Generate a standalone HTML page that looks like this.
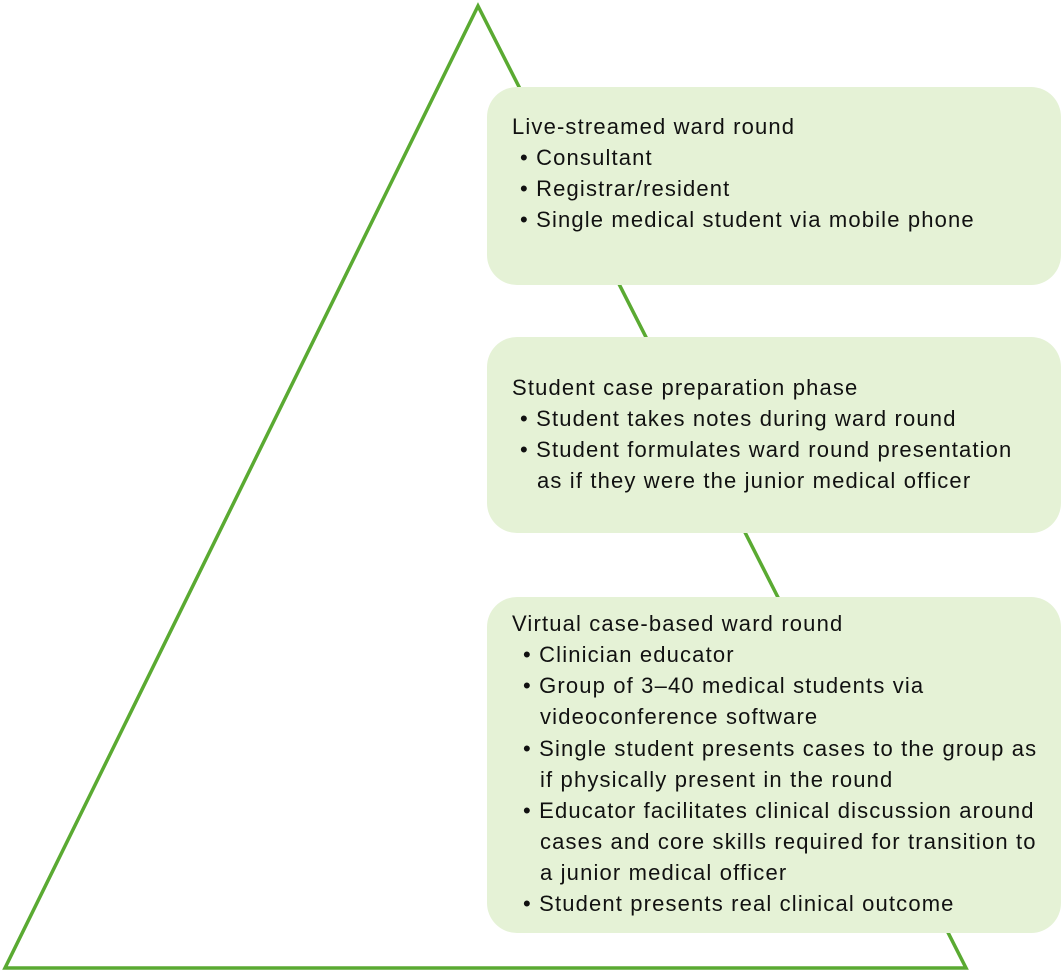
<!DOCTYPE html>
<html><head><meta charset="utf-8"><style>
html,body{margin:0;padding:0;background:#fff;}
body{width:1064px;height:971px;position:relative;overflow:hidden;font-family:"Liberation Sans","DejaVu Sans",sans-serif;}
.box{position:absolute;left:487px;width:574px;background:#e5f2d6;border-radius:30px;}
.t{position:absolute;font-size:22px;letter-spacing:1.15px;color:#111;white-space:nowrap;line-height:31px;}
</style></head><body>
<svg width="1064" height="971" style="position:absolute;left:0;top:0">
<polygon points="478,6 5,968 966,968" fill="none" stroke="#5aaa32" stroke-width="3.5" stroke-linejoin="miter"/>
</svg>
<div class="box" style="top:87px;height:198px"></div>
<div class="box" style="top:337px;height:196px"></div>
<div class="box" style="top:597px;height:336px"></div>

<div class="t" style="left:512px;top:111px">Live-streamed ward round</div>
<div class="t" style="left:520px;top:142px">• Consultant</div>
<div class="t" style="left:520px;top:173px">• Registrar/resident</div>
<div class="t" style="left:520px;top:204px">• Single medical student via mobile phone</div>

<div class="t" style="left:512px;top:372px">Student case preparation phase</div>
<div class="t" style="left:520px;top:403px">• Student takes notes during ward round</div>
<div class="t" style="left:520px;top:434px">• Student formulates ward round presentation</div>
<div class="t" style="left:537px;top:465px">as if they were the junior medical officer</div>

<div class="t" style="left:512px;top:608px">Virtual case-based ward round</div>
<div class="t" style="left:523px;top:639px">• Clinician educator</div>
<div class="t" style="left:523px;top:670px">• Group of 3–40 medical students via</div>
<div class="t" style="left:540px;top:701px">videoconference software</div>
<div class="t" style="left:523px;top:733px">• Single student presents cases to the group as</div>
<div class="t" style="left:540px;top:764px">if physically present in the round</div>
<div class="t" style="left:523px;top:795px">• Educator facilitates clinical discussion around</div>
<div class="t" style="left:540px;top:826px">cases and core skills required for transition to</div>
<div class="t" style="left:540px;top:857px">a junior medical officer</div>
<div class="t" style="left:523px;top:888px">• Student presents real clinical outcome</div>
</body></html>
